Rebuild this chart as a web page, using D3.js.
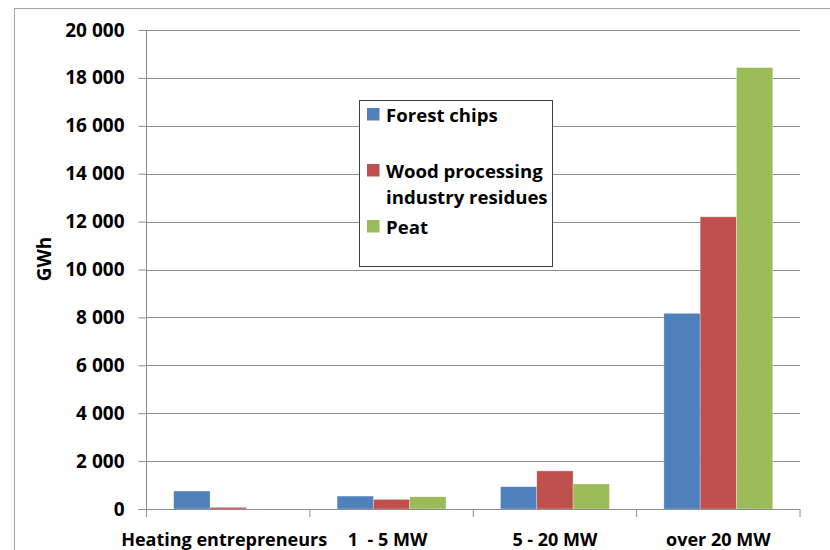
<!DOCTYPE html>
<html><head><meta charset="utf-8">
<script src="https://cdn.jsdelivr.net/npm/d3@7"></script>
<style>body{margin:0;background:#fff}svg{display:block}text{font-family:"Open Sans",Lato,sans-serif;font-weight:bold;fill:#000}</style>
</head><body>
<svg id="c" width="830" height="550"></svg>
<script>
const categories = ["Heating entrepreneurs", "1  - 5 MW", "5 - 20 MW", "over 20 MW"];
const seriesNames = ["Forest chips", "Wood processing industry residues", "Peat"];
const forestChips = [750, 540, 930, 8170];
const woodResidues = [70, 400, 1590, 12200];
const peat = [0, 510, 1045, 18430];
const yTicks = [0, 2000, 4000, 6000, 8000, 10000, 12000, 14000, 16000, 18000, 20000];
const colors = ["#4F81BD", "#C0504D", "#9BBB59"];
const seriesVals = [forestChips, woodResidues, peat];

const svg = d3.select("#c");
svg.append("rect").attr("x",14.5).attr("y",8.5).attr("width",830).attr("height",560)
  .attr("fill","#fff").attr("stroke","#a6a6a6");

const L = 146.5, R = 800, T = 30, B = 509;
const x = d3.scaleBand().domain(categories).range([L, R]).paddingInner(1/3).paddingOuter(1/6);
const x1 = d3.scaleBand().domain(d3.range(3)).range([0, x.bandwidth()]);
const y = d3.scaleLinear().domain([0, 20000]).range([B, T]);
const fmt = v => d3.format(",")(v).replace(/,/g, " ");

// gridlines
svg.append("g").selectAll("line").data(yTicks.filter(d=>d>0)).join("line")
  .attr("x1", L).attr("x2", R).attr("y1", d=>Math.round(y(d))+0.5).attr("y2", d=>Math.round(y(d))+0.5)
  .attr("stroke", "#8c8c8c").attr("stroke-width", 1);

// bars
const g = svg.append("g");
categories.forEach((c, i) => {
  seriesVals.forEach((s, j) => {
    if (s[i] <= 0) return;
    g.append("rect")
      .attr("x", x(c) + x1(j)).attr("width", x1.bandwidth())
      .attr("y", y(s[i])).attr("height", y(0) - y(s[i]))
      .attr("fill", colors[j]).attr("stroke", "rgba(255,255,255,0.5)").attr("stroke-width", 0.6);
  });
});

// y axis
const ya = d3.axisLeft(y).tickValues(yTicks).tickFormat(fmt).tickSize(8).tickPadding(14);
const yg = svg.append("g").attr("transform", `translate(${L},0)`).call(ya);
yg.select(".domain").attr("stroke", "#8c8c8c").attr("d", `M0,${T}V${B}`);
yg.selectAll(".tick line").attr("stroke", "#8c8c8c");
yg.selectAll(".tick text").style("font-size", "19px").style("font-family", "Open Sans").style("font-weight","bold").attr("fill","#000");

// x axis
const xg = svg.append("g").attr("transform", `translate(0,${B})`);
xg.append("line").attr("x1", L-8).attr("x2", R).attr("y1", 0.5).attr("y2", 0.5).attr("stroke", "#8c8c8c");
const bounds = categories.map(c => x(c) - x.step()*x.paddingInner()/2);
bounds.push(R);
xg.selectAll("line.t").data(bounds).join("line").attr("class","t")
  .attr("x1", d=>d).attr("x2", d=>d).attr("y1", 0).attr("y2", 8).attr("stroke", "#8c8c8c");
xg.selectAll("text").data(categories).join("text")
  .attr("x", (d,i) => x(d) + x.bandwidth()/2 - (i<2 ? 4 : 0)).attr("y", 37)
  .attr("text-anchor", "middle").style("font-size", "18px").attr("xml:space","preserve")
  .text(d => d);

// y label
svg.append("text").attr("transform", "translate(51,259) rotate(-90)")
  .attr("text-anchor", "middle").style("font-size", "19px").text("GWh");

// legend
const lg = svg.append("g");
lg.append("rect").attr("x", 359.5).attr("y", 100.5).attr("width", 193).attr("height", 166)
  .attr("fill", "#fff").attr("stroke", "#404040");
const legendRows = [{y:108, lines:["Forest chips"]}, {y:164, lines:["Wood processing","industry residues"]}, {y:220, lines:["Peat"]}];
legendRows.forEach((r, j) => {
  lg.append("rect").attr("x", 367).attr("y", r.y).attr("width", 12.5).attr("height", 12.5).attr("fill", colors[j]);
  r.lines.forEach((t, k) => {
    lg.append("text").attr("x", 386).attr("y", r.y + 14 + k*26).style("font-size", "18.6px").text(t);
  });
});
</script>
</body></html>
